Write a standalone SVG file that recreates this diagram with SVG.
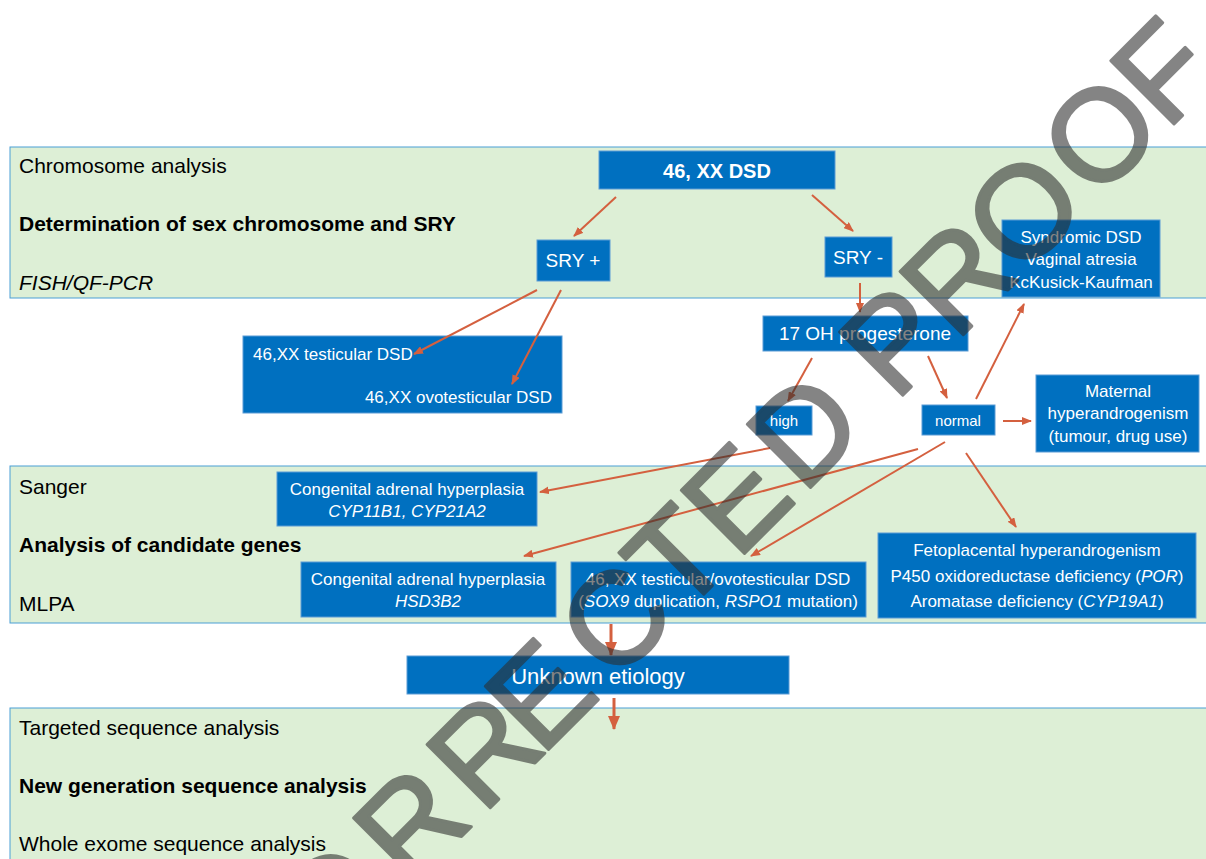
<svg xmlns="http://www.w3.org/2000/svg" width="1206" height="859" viewBox="0 0 1206 859">
<defs>
<marker id="ah" markerWidth="10" markerHeight="8" refX="9" refY="4" orient="auto" markerUnits="userSpaceOnUse"><path d="M0,0 L10,4 L0,8 z" fill="#d4603f"/></marker>
<marker id="ahb" markerWidth="14" markerHeight="12" refX="13" refY="6" orient="auto" markerUnits="userSpaceOnUse"><path d="M0,0 L14,6 L0,12 z" fill="#d4603f"/></marker>
<style>
.band{fill:#ddefd6;stroke:#4a9fd5;stroke-width:1}
.node{fill:#0070c0;stroke:#5b9bd5;stroke-width:1}
.lbl{font-family:"Liberation Sans",Arial,sans-serif;font-size:21px;fill:#000}
.b{font-weight:bold}
.i{font-style:italic}
.nt{font-family:"Liberation Sans",Arial,sans-serif;font-size:17px;fill:#fff;text-anchor:middle}
.conn{stroke:#d4603f;stroke-width:2;fill:none;marker-end:url(#ah)}
.thick{stroke:#d4603f;stroke-width:3;fill:none;marker-end:url(#ahb)}
.wm{font-family:"Liberation Sans",Arial,sans-serif;font-size:130px;fill:#2d2d2d;stroke:#2d2d2d;stroke-width:3;stroke-linejoin:round;text-anchor:middle}
</style>
</defs>
<rect width="1206" height="859" fill="#fff"/>
<g id="bands">
<rect class="band" x="10" y="147" width="1210" height="151"/>
<rect class="band" x="10" y="466" width="1210" height="157"/>
<rect class="band" x="10" y="708" width="1210" height="160"/>
<text class="lbl" x="19" y="173">Chromosome analysis</text>
<text class="lbl b" x="19" y="231">Determination of sex chromosome and SRY</text>
<text class="lbl i" x="19" y="290">FISH/QF-PCR</text>
<text class="lbl" x="19" y="494">Sanger</text>
<text class="lbl b" x="19" y="552">Analysis of candidate genes</text>
<text class="lbl" x="19" y="611">MLPA</text>
<text class="lbl" x="19" y="735">Targeted sequence analysis</text>
<text class="lbl b" x="19" y="793">New generation sequence analysis</text>
<text class="lbl" x="19" y="851">Whole exome sequence analysis</text>
</g>
<g id="n-46xx">
<rect class="node" x="599" y="151" width="236" height="38"/>
<text class="nt b" x="717" y="178" style="font-size:20px">46, XX DSD</text>
</g>
<g id="n-sryplus">
<rect class="node" x="537" y="240" width="73" height="41"/>
<text class="nt" x="573" y="267" style="font-size:19px">SRY +</text>
</g>
<g id="n-sryminus">
<rect class="node" x="825" y="237" width="67" height="40"/>
<text class="nt" x="858" y="264" style="font-size:19px">SRY -</text>
</g>
<g id="n-syndromic">
<rect class="node" x="1002" y="220" width="158" height="77"/>
<text class="nt" x="1081" y="243">Syndromic DSD</text>
<text class="nt" x="1081" y="265">Vaginal atresia</text>
<text class="nt" x="1081" y="288">KcKusick-Kaufman</text>
</g>
<g id="n-17oh">
<rect class="node" x="763" y="316" width="205" height="35"/>
<text class="nt" x="865" y="340" style="font-size:19px">17 OH progesterone</text>
</g>
<g id="n-srypos-out">
<rect class="node" x="243" y="336" width="319" height="77"/>
<text class="nt" x="253" y="360" style="text-anchor:start">46,XX testicular DSD</text>
<text class="nt" x="552" y="403" style="text-anchor:end">46,XX ovotesticular DSD</text>
</g>
<g id="n-high">
<rect class="node" x="756" y="406" width="56" height="29"/>
<text class="nt" x="784" y="426" style="font-size:15px">high</text>
</g>
<g id="n-normal">
<rect class="node" x="922" y="405" width="73" height="30"/>
<text class="nt" x="958" y="426" style="font-size:15px">normal</text>
</g>
<g id="n-maternal">
<rect class="node" x="1036" y="375" width="163" height="77"/>
<text class="nt" x="1118" y="397">Maternal</text>
<text class="nt" x="1118" y="419">hyperandrogenism</text>
<text class="nt" x="1118" y="442">(tumour, drug use)</text>
</g>
<g id="n-cah1">
<rect class="node" x="277" y="472" width="260" height="54"/>
<text class="nt" x="407" y="495">Congenital adrenal hyperplasia</text>
<text class="nt i" x="407" y="517">CYP11B1, CYP21A2</text>
</g>
<g id="n-cah2">
<rect class="node" x="301" y="562" width="255" height="55"/>
<text class="nt" x="428" y="585">Congenital adrenal hyperplasia</text>
<text class="nt i" x="428" y="607">HSD3B2</text>
</g>
<g id="n-sox9">
<rect class="node" x="571" y="562" width="295" height="55"/>
<text class="nt" x="718" y="585">46, XX testicular/ovotesticular DSD</text>
<text class="nt" x="718" y="607">(<tspan class="i">SOX9</tspan> duplication, <tspan class="i">RSPO1</tspan> mutation)</text>
</g>
<g id="n-feto">
<rect class="node" x="878" y="533" width="318" height="85"/>
<text class="nt" x="1037" y="556">Fetoplacental hyperandrogenism</text>
<text class="nt" x="1037" y="582">P450 oxidoreductase deficiency (<tspan class="i">POR</tspan>)</text>
<text class="nt" x="1037" y="607">Aromatase deficiency (<tspan class="i">CYP19A1</tspan>)</text>
</g>
<g id="n-unknown">
<rect class="node" x="407" y="656" width="382" height="38"/>
<text class="nt" x="598" y="684" style="font-size:22px">Unknown etiology</text>
</g>
<g id="connectors">
<line class="conn" x1="616" y1="197" x2="574" y2="236"/>
<line class="conn" x1="812" y1="195" x2="853" y2="231"/>
<line class="conn" x1="537" y1="290" x2="414" y2="354"/>
<line class="conn" x1="561" y1="290" x2="512" y2="384"/>
<line class="conn" x1="860" y1="283" x2="860" y2="312"/>
<line class="conn" x1="812" y1="358" x2="788" y2="401"/>
<line class="conn" x1="928" y1="356" x2="947" y2="398"/>
<line class="conn" x1="976" y1="399" x2="1024" y2="304"/>
<line class="conn" x1="1003" y1="421" x2="1031" y2="421"/>
<line class="conn" x1="770" y1="448" x2="540" y2="492"/>
<line class="conn" x1="918" y1="449" x2="524" y2="556"/>
<line class="conn" x1="945" y1="442" x2="751" y2="556"/>
<line class="conn" x1="966" y1="453" x2="1016" y2="527"/>
<line class="thick" x1="611" y1="624" x2="611" y2="655"/>
<line class="thick" x1="614" y1="698" x2="614" y2="729"/>
</g>
<g id="watermark" opacity="0.58">
<text class="wm" transform="translate(1177 121) rotate(-45)" x="-1265 -1150 -1039 -935 -856 -750 -663 -579 -482 -420 -355 -266 -172 -64 25" y="0">CORRECTED PROOF</text>
</g>
</svg>
